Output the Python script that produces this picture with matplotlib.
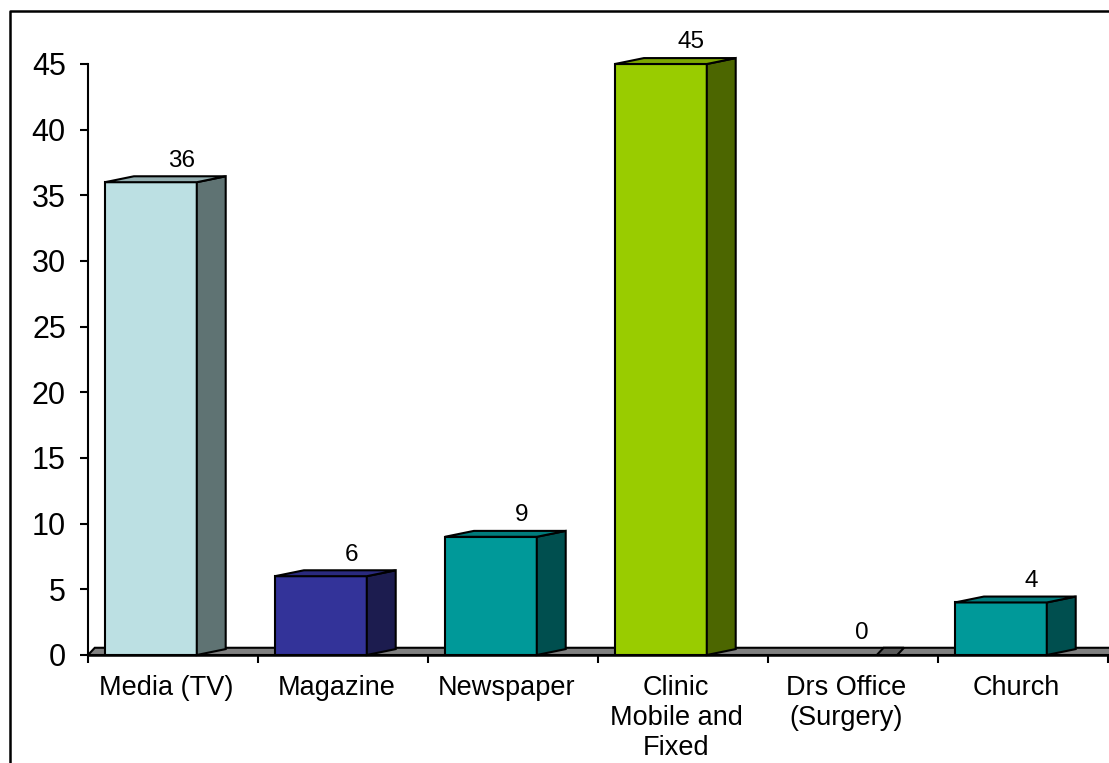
import matplotlib.pyplot as plt
from matplotlib.patches import Polygon
from matplotlib.lines import Line2D

plt.rcParams['font.family'] = ['Liberation Sans', 'DejaVu Sans']

# Survey responses by source
categories = ["Media (TV)", "Magazine", "Newspaper", "Clinic\nMobile and\nFixed",
              "Drs Office\n(Surgery)", "Church"]
values = [36, 6, 9, 45, 0, 4]

# front / side / top face colours for each bar
front_colors = ["#BCE0E3", "#333399", "#009999", "#99CC00", "#009999", "#009999"]
side_colors = ["#5F7373", "#1C1C4F", "#004F4F", "#4C6600", "#004F4F", "#004F4F"]
top_colors = ["#93AEB0", "#2A2A7E", "#007C7C", "#7DA800", "#007C7C", "#007C7C"]

W, H, DPI = 1109, 763, 100
fig = plt.figure(figsize=(W / DPI, H / DPI), dpi=DPI)

# axes placed so that x runs 0..6 (one unit per category) and y runs 0..45
x0_px, x1_px = 88, 1108
y0_px, y1_px = 655, 64
ax = fig.add_axes([x0_px / W, 1 - y0_px / H, (x1_px - x0_px) / W, (y0_px - y1_px) / H])
ax.set_xlim(0, 6)
ax.set_ylim(0, 45)

dx, dy = 0.17, 0.45      # 3-D depth offset in data units
bar_left, bar_w = 0.10, 0.54
edge = dict(edgecolor="black", linewidth=1.5, joinstyle="miter", clip_on=False)

# floor slab
floor = Polygon([(0, 0), (6.2, 0), (6.2 + dx, 0.55), (0.04, 0.55)],
                facecolor="#808080", zorder=1, **edge)
ax.add_patch(floor)

for i, (v, fc, sc, tc) in enumerate(zip(values, front_colors, side_colors, top_colors)):
    xa = i + bar_left
    xb = xa + bar_w
    if v > 0:
        ax.add_patch(Polygon([(xa, 0), (xb, 0), (xb, v), (xa, v)],
                             facecolor=fc, zorder=3, **edge))
        ax.add_patch(Polygon([(xb, 0), (xb + dx, dy), (xb + dx, v + dy), (xb, v)],
                             facecolor=sc, zorder=3, **edge))
        ax.add_patch(Polygon([(xa, v), (xb, v), (xb + dx, v + dy), (xa + dx, v + dy)],
                             facecolor=tc, zorder=3, **edge))
    else:
        # a zero bar only leaves a thin dark sliver on the floor
        ax.add_patch(Polygon([(xb, 0), (xb + 0.12, 0), (xb + 0.16, 0.55), (xb + 0.04, 0.55)],
                             facecolor="#5A5A5A", zorder=2, **edge))
    ax.text(i + 0.55, v + dy + 0.35, str(v), ha="center", va="bottom",
            fontsize=17.5, zorder=5)

# front edge of the floor / x axis line
ax.plot([0, 6.2], [0, 0], color="black", linewidth=1.8, clip_on=False, zorder=4)

# category labels
for i, lab in enumerate(categories):
    ax.text(i + 0.46, -1.55, lab, ha="center", va="top", fontsize=19.5,
            linespacing=1.18, clip_on=False)

ax.set_yticks(range(0, 46, 5))
ax.tick_params(axis="y", labelsize=22, length=6, width=1.5, pad=10)
ax.set_xticks(range(0, 7))
ax.set_xticklabels([])
ax.tick_params(axis="x", length=6, width=1.5, direction="out")
for s in ["top", "right", "bottom"]:
    ax.spines[s].set_visible(False)
ax.spines["left"].set_linewidth(1.5)
ax.patch.set_visible(False)

# chart-area frame (left and top edges)
fig.add_artist(Line2D([10 / W, 10 / W, 1.01], [0, 1 - 11 / H, 1 - 11 / H],
                      transform=fig.transFigure, color="black", linewidth=1.8))

fig.savefig("out.png", dpi=DPI)
